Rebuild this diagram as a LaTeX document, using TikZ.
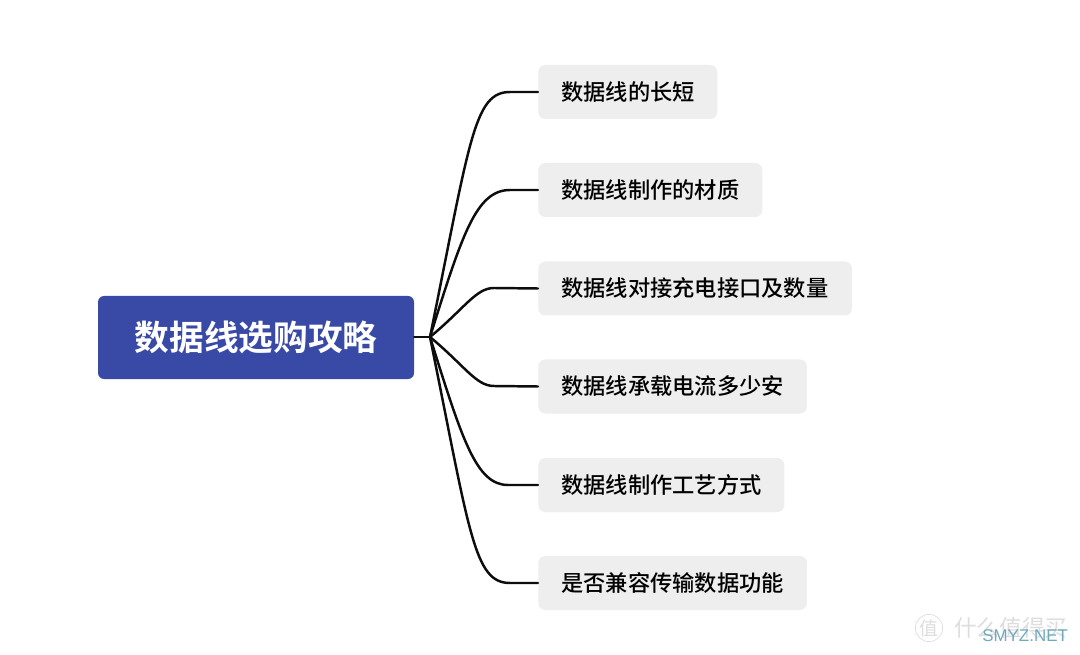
\documentclass[tikz,border=0pt]{standalone}
\usepackage{fontspec}
\setmainfont[BoldFont={Noto Sans CJK SC Bold}]{Noto Sans CJK SC}
\newfontfamily\medcjk{Noto Sans CJK SC Medium}
\newfontfamily\latinwm{Liberation Sans}
\definecolor{rootblue}{HTML}{3949A6}
\definecolor{leafgrey}{HTML}{EEEEEE}
\definecolor{markgrey}{HTML}{DDDDDD}
\definecolor{marktext}{HTML}{6FA9BC}
\tikzset{
  x=0.75pt,y=-0.75pt,
  rootbox/.style={fill=rootblue,rounded corners=6pt*0.75,inner sep=0pt,text=white,font=\fontsize{26}{30}\selectfont\bfseries,minimum width=237pt,minimum height=62.25pt},
  leafbox/.style={fill=leafgrey,rounded corners=7pt*0.75,inner sep=0pt,anchor=west,minimum height=40.5pt},
  leaftext/.style={anchor=west,inner sep=0pt,text=black,font=\fontsize{16.7}{20}\selectfont\medcjk},
  link/.style={draw=black!95,line width=1.85pt,line cap=round},
}
\begin{document}
\begin{tikzpicture}
\useasboundingbox (0,0) rectangle (1080,655);
\fill[white] (0,0) rectangle (1080,655);
\coordinate (hub) at (430,337);
\coordinate (b1) at (510,92);
\coordinate (b2) at (510,190);
\coordinate (b3) at (494,288);
\coordinate (b4) at (494,386);
\coordinate (b5) at (508,485);
\coordinate (b6) at (510,583);
\node[rootbox] (root) at (256,337.5) {数据线选购攻略};
\node[leafbox,minimum width=134.25pt] (n1) at (538,92) {};
\node[leafbox,minimum width=168pt] (n2) at (538,190) {};
\node[leafbox,minimum width=235.25pt] (n3) at (538,288.5) {};
\node[leafbox,minimum width=201.5pt] (n4) at (538,386.5) {};
\node[leafbox,minimum width=184.5pt] (n5) at (538,485) {};
\node[leafbox,minimum width=201.5pt] (n6) at (538,583) {};
\node[leaftext] (t1) at (561,92) {数据线的长短};
\node[leaftext] (t2) at (561,190) {数据线制作的材质};
\node[leaftext] (t3) at (561,288.5) {数据线对接充电接口及数量};
\node[leaftext] (t4) at (561,386.5) {数据线承载电流多少安};
\node[leaftext] (t5) at (561,485) {数据线制作工艺方式};
\node[leaftext] (t6) at (561,583) {是否兼容传输数据功能};
\draw[link] (root.east |- hub) -- (hub);
\draw[link] (hub) .. controls (470,140) and (474,92) .. (b1) -- (n1.west);
\draw[link] (hub) .. controls (462,235) and (476,190) .. (b2) -- (n2.west);
\draw[link] (hub) .. controls (465,308) and (476,288) .. (b3) -- (n3.west);
\draw[link] (hub) .. controls (465,366) and (476,386) .. (b4) -- (n4.west);
\draw[link] (hub) .. controls (462,439) and (476,485) .. (b5) -- (n5.west);
\draw[link] (hub) .. controls (470,534) and (474,583) .. (b6) -- (n6.west);
\node[circle,draw=markgrey,line width=0.5pt,inner sep=0.5pt,text=markgrey,font=\fontsize{14}{16}\selectfont] (m1) at (929,628) {值};
\node[anchor=west,inner sep=0pt,text=markgrey,font=\fontsize{17}{19}\selectfont] (m2) at (954,628) {什么值得买};
\node[anchor=west,inner sep=0pt,text=marktext,font=\latinwm\fontsize{12.7}{15}\selectfont] (m3) at (982,636) {SMYZ.NET};
\end{tikzpicture}
\end{document}
